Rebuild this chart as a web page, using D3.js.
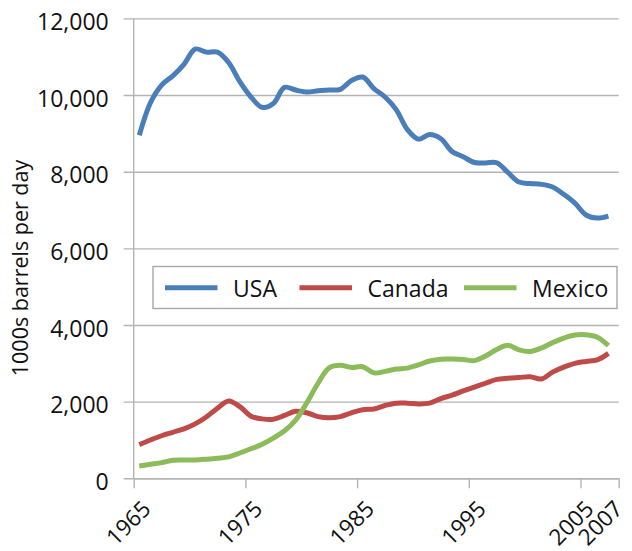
<!DOCTYPE html>
<html><head><meta charset="utf-8">
<script src="https://cdn.jsdelivr.net/npm/d3@7"></script>
<style>
body{margin:0;background:#fff;}
text{font-family:"Open Sans",sans-serif;fill:#111;}
</style></head>
<body><svg id="c" width="632" height="551"></svg>
<script>
const years = d3.range(1965, 2008);
const usa = [8950,9800,10260,10500,10800,11200,11120,11120,10850,10350,9950,9680,9780,10200,10130,10080,10110,10130,10150,10380,10470,10170,9950,9620,9100,8850,8970,8860,8530,8390,8240,8230,8234,7980,7730,7690,7670,7600,7410,7180,6870,6790,6840];
const canada = [880,1000,1110,1200,1290,1420,1600,1830,2020,1870,1620,1550,1540,1640,1750,1710,1610,1580,1610,1710,1790,1810,1900,1960,1960,1940,1960,2080,2170,2280,2380,2480,2580,2610,2630,2650,2590,2770,2900,3000,3050,3090,3260];
const mexico = [320,365,410,470,477,480,500,525,560,660,770,890,1050,1240,1520,1970,2480,2880,2950,2890,2910,2750,2790,2850,2875,2960,3060,3105,3110,3100,3070,3190,3360,3470,3350,3310,3400,3540,3660,3740,3745,3680,3460];
const seriesNames = ["USA","Canada","Mexico"];
const seriesColors = ["#4a7ebb","#be4b48","#8cbb5a"];
const yTicks = [0,2000,4000,6000,8000,10000,12000];
const xTickYears = [1965,1975,1985,1995,2005,2008.42];
const xTickLabels = ["1965","1975","1985","1995","2005","2007"];
const yTitle = "1000s barrels per day";

const svg = d3.select("#c");
const L = 133.7, R = 618.7, T = 18.4, B = 478.3;
const x = d3.scaleLinear().domain([1965, 2008.42]).range([L, R]);
const y = d3.scaleLinear().domain([0, 12000]).range([B, T]);
const grid = "#b4b4b4";

// gridlines + y ticks
const yAxis = d3.axisLeft(y).tickValues(yTicks).tickSize(-(R - L)).tickSizeOuter(0)
  .tickFormat(d3.format(","));
const gy = svg.append("g").attr("transform", `translate(${L},0)`).call(yAxis);
gy.select(".domain").remove();
gy.selectAll(".tick line").attr("stroke", grid).attr("stroke-width", 1.4).attr("x1", -10);
gy.selectAll(".tick text").attr("x", -25).attr("dy", "0.48em").style("font-size", "23px").attr("fill", "#111");

// y axis line
svg.append("line").attr("x1", L).attr("x2", L).attr("y1", T).attr("y2", B)
  .attr("stroke", grid).attr("stroke-width", 1.4);

// x axis
const xAxis = d3.axisBottom(x).tickValues(xTickYears).tickSize(10).tickSizeOuter(0)
  .tickFormat((d, i) => xTickLabels[i]);
const gx = svg.append("g").attr("transform", `translate(0,${B})`).call(xAxis);
gx.select(".domain").attr("stroke", grid).attr("stroke-width", 1.4);
gx.selectAll(".tick line").attr("stroke", grid).attr("stroke-width", 1.4);
gx.selectAll(".tick text").attr("y", 0).attr("dy", 0)
  .attr("text-anchor", "end")
  .attr("transform", (d, i) => `translate(${i === 4 ? 14 : (i === 5 ? 5 : 18)},32) rotate(-45)`)
  .style("font-size", "22.5px").attr("fill", "#111");

// y title
svg.append("text").attr("transform", "translate(28,268) rotate(-90)")
  .attr("text-anchor", "middle").style("font-size", "21.5px").text(yTitle);

// lines
const data = [usa, canada, mexico];
const line = d3.line().x((d, i) => x(years[i] + 0.5)).y(d => y(d)).curve(d3.curveCatmullRom.alpha(0.5));
data.forEach((s, k) => {
  svg.append("path").datum(s).attr("d", line).attr("fill", "none")
    .attr("stroke", seriesColors[k]).attr("stroke-width", 5).attr("stroke-linecap", "butt")
    .attr("stroke-linejoin", "round");
});

// legend
const lg = svg.append("g");
lg.append("rect").attr("x", 153).attr("y", 266.5).attr("width", 464).attr("height", 42)
  .attr("fill", "#fff").attr("stroke", "#a8a8a8").attr("stroke-width", 1.4);
const legX = [165, 299.5, 464];
seriesNames.forEach((n, k) => {
  lg.append("line").attr("x1", legX[k]).attr("x2", legX[k] + 52.5).attr("y1", 287.7).attr("y2", 287.7)
    .attr("stroke", seriesColors[k]).attr("stroke-width", 5);
  lg.append("text").attr("x", legX[k] + 68).attr("y", 296.5).style("font-size", "23px").text(n);
});
</script></body></html>
